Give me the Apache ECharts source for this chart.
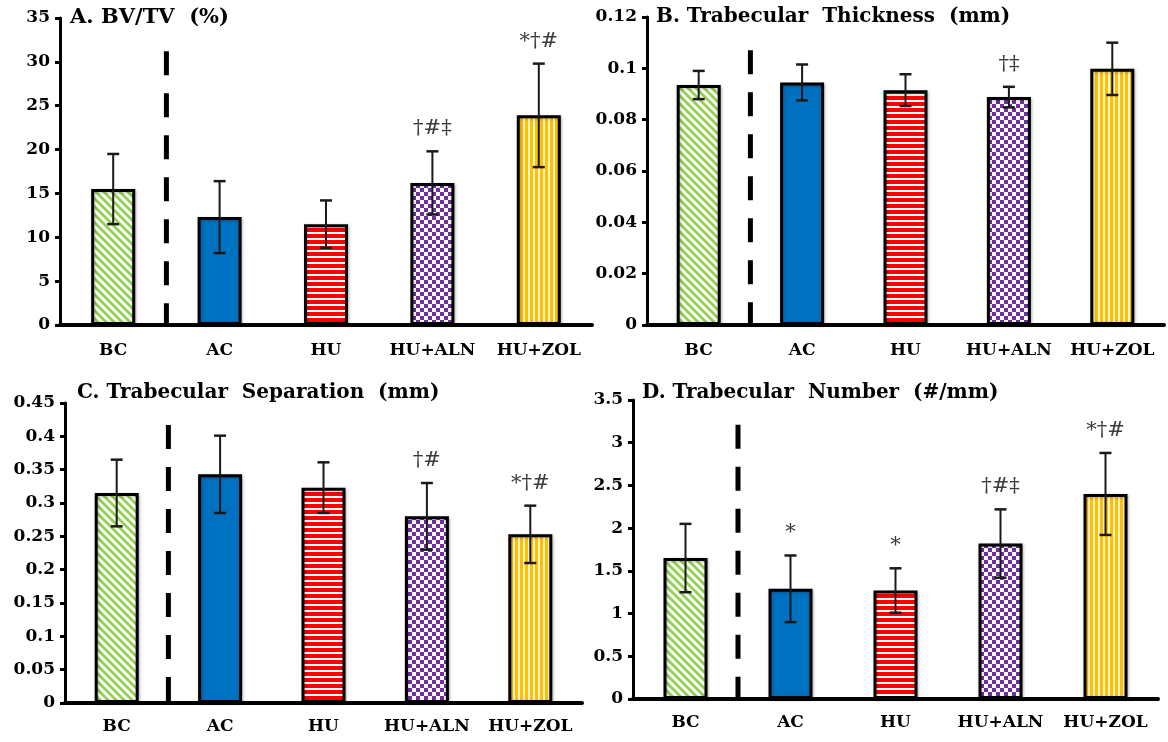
<!DOCTYPE html>
<html>
<head>
<meta charset="utf-8">
<script src="https://cdn.jsdelivr.net/npm/echarts@6/dist/echarts.min.js"></script>
<style>
html,body{margin:0;padding:0;background:#fff;}
#chart{width:1168px;height:742px;}
</style>
</head>
<body>
<div id="chart"></div>
<script>
// ---- data ----
const categories = ['BC', 'AC', 'HU', 'HU+ALN', 'HU+ZOL'];

const bvtvMean = [15.5, 12.3, 11.5, 16.2, 23.9];
const bvtvSD   = [4.0, 4.1, 2.7, 3.6, 5.9];
const bvtvSig  = ['', '', '', '†#‡', '*†#'];

const tbthMean = [0.0935, 0.0945, 0.0915, 0.0888, 0.0998];
const tbthSD   = [0.0055, 0.0070, 0.0062, 0.0040, 0.0102];
const tbthSig  = ['', '', '', '†‡', ''];

const tbspMean = [0.315, 0.343, 0.323, 0.280, 0.253];
const tbspSD   = [0.050, 0.058, 0.038, 0.050, 0.043];
const tbspSig  = ['', '', '', '†#', '*†#'];

const tbnMean = [1.65, 1.29, 1.27, 1.82, 2.40];
const tbnSD   = [0.40, 0.39, 0.26, 0.40, 0.48];
const tbnSig  = ['', '*', '*', '†#‡', '*†#'];

const titles = ['A. BV/TV  (%)', 'B. Trabecular  Thickness  (mm)', 'C. Trabecular  Separation  (mm)', 'D. Trabecular  Number  (#/mm)'];
const yMax = [35, 0.12, 0.45, 3.5];
const yStep = [5, 0.02, 0.05, 0.5];
const separatorTop = [31.2, 0.107, 0.417, 3.21];

// ---- patterns ----
function makePattern(w, h, draw) {
  const c = document.createElement('canvas');
  c.width = w; c.height = h;
  const ctx = c.getContext('2d');
  draw(ctx, w, h);
  return { image: c, repeat: 'repeat' };
}
const patBC = makePattern(8, 8, (ctx, w, h) => {
  ctx.fillStyle = '#fff'; ctx.fillRect(0, 0, w, h);
  ctx.strokeStyle = '#92D050'; ctx.lineWidth = 2.8;
  ctx.beginPath();
  ctx.moveTo(-2, -2); ctx.lineTo(w + 2, h + 2);
  ctx.moveTo(-2, h - 2); ctx.lineTo(2, h + 2);
  ctx.moveTo(w - 2, -2); ctx.lineTo(w + 2, 2);
  ctx.stroke();
});
const patAC = '#0070C0';
const patHU = makePattern(4, 6, (ctx, w, h) => {
  ctx.fillStyle = '#FF0000'; ctx.fillRect(0, 0, w, h);
  ctx.fillStyle = '#fff'; ctx.fillRect(0, 4, w, 2);
});
const patALN = makePattern(8, 8, (ctx, w, h) => {
  ctx.fillStyle = '#fff'; ctx.fillRect(0, 0, w, h);
  ctx.fillStyle = '#7030A0';
  ctx.fillRect(0, 0, 4, 4); ctx.fillRect(4, 4, 4, 4);
});
const patZOL = makePattern(5, 4, (ctx, w, h) => {
  ctx.fillStyle = '#FFC000'; ctx.fillRect(0, 0, w, h);
  ctx.fillStyle = '#FFF3CF'; ctx.fillRect(3, 0, 2, h);
});
const patterns = [patBC, patAC, patHU, patALN, patZOL];

const panels = [
  { mean: bvtvMean, sd: bvtvSD, sig: bvtvSig },
  { mean: tbthMean, sd: tbthSD, sig: tbthSig },
  { mean: tbspMean, sd: tbspSD, sig: tbspSig },
  { mean: tbnMean, sd: tbnSD, sig: tbnSig }
];

const grids = [
  { left: 60, top: 18, width: 532, height: 307 },
  { left: 647, top: 17, width: 517, height: 308 },
  { left: 65, top: 403, width: 517, height: 300 },
  { left: 633, top: 400, width: 525, height: 299 }
];
const titlePos = [
  { left: 70, top: 7 }, { left: 656, top: 7 }, { left: 77, top: 383 }, { left: 642, top: 383 }
];
const titleSize = [21, 20, 20, 20];
const labelMargin = [17, 17, 15, 15];

const FONT = 'DejaVu Serif';

const option = {
  backgroundColor: '#fff',
  animation: false,
  title: titles.map((t, i) => ({
    text: t, left: titlePos[i].left, top: titlePos[i].top, padding: 0,
    textStyle: { fontFamily: FONT, fontWeight: 'bold', fontSize: titleSize[i], color: '#000' }
  })),
  grid: grids,
  xAxis: grids.map((g, i) => ({
    type: 'category', gridIndex: i, data: categories,
    axisLine: { show: true, lineStyle: { color: '#000', width: 4 } },
    axisTick: { show: false },
    axisLabel: { fontFamily: FONT, fontWeight: 'bold', fontSize: 17, color: '#000', margin: labelMargin[i], interval: 0 },
    splitLine: { show: false }
  })),
  yAxis: grids.map((g, i) => ({
    type: 'value', gridIndex: i, min: 0, max: yMax[i], interval: yStep[i],
    axisLine: { show: true, lineStyle: { color: '#000', width: 3 } },
    axisTick: { show: true, length: 5, lineStyle: { color: '#000', width: 3 } },
    axisLabel: {
      fontFamily: FONT, fontWeight: 'bold', fontSize: 17, color: '#000', margin: 10,
      formatter: v => String(+v.toFixed(4))
    },
    splitLine: { show: false }
  })),
  series: []
};

panels.forEach((p, i) => {
  option.series.push({
    type: 'bar', xAxisIndex: i, yAxisIndex: i, barWidth: 44,
    data: p.mean.map((v, k) => ({ value: v, itemStyle: { color: patterns[k] } })),
    itemStyle: { borderColor: '#000', borderWidth: 3, shadowColor: 'rgba(0,0,0,0.25)', shadowBlur: 3, shadowOffsetX: 1, shadowOffsetY: 1 },
    z: 2
  });
  option.series.push({
    type: 'custom', xAxisIndex: i, yAxisIndex: i, z: 5,
    data: p.mean.map((v, k) => [k, v, p.sd[k]]),
    renderItem: (params, api) => {
      const k = api.value(0), m = api.value(1), s = api.value(2);
      const top = api.coord([k, m + s]);
      const bot = api.coord([k, m - s]);
      const cw = 6;
      const children = [
        { type: 'line', shape: { x1: top[0], y1: top[1], x2: bot[0], y2: bot[1] }, style: { stroke: '#1a1a1a', lineWidth: 2 } },
        { type: 'line', shape: { x1: top[0] - cw, y1: top[1], x2: top[0] + cw, y2: top[1] }, style: { stroke: '#1a1a1a', lineWidth: 2.5 } },
        { type: 'line', shape: { x1: bot[0] - cw, y1: bot[1], x2: bot[0] + cw, y2: bot[1] }, style: { stroke: '#1a1a1a', lineWidth: 2.5 } }
      ];
      const sig = p.sig[params.dataIndex];
      if (sig) {
        children.push({
          type: 'text',
          style: { text: sig, x: top[0], y: top[1] - 12, align: 'center', verticalAlign: 'bottom',
                   fontFamily: FONT, fontSize: 21, fill: '#3c3c3c' }
        });
      }
      return { type: 'group', children };
    }
  });
  option.series.push({
    type: 'custom', xAxisIndex: i, yAxisIndex: i, z: 4,
    data: [[0, separatorTop[i]]],
    renderItem: (params, api) => {
      const t0 = api.coord([0, api.value(1)]);
      const t1 = api.coord([1, api.value(1)]);
      const b0 = api.coord([0, 0]);
      const x = (t0[0] + t1[0]) / 2;
      return { type: 'line', shape: { x1: x, y1: t0[1], x2: x, y2: b0[1] },
               style: { stroke: '#000', lineWidth: 5, lineDash: [24, 18] } };
    }
  });
});

const chart = echarts.init(document.getElementById('chart'), null, { renderer: 'canvas' });
chart.setOption(option);
</script>
</body>
</html>
